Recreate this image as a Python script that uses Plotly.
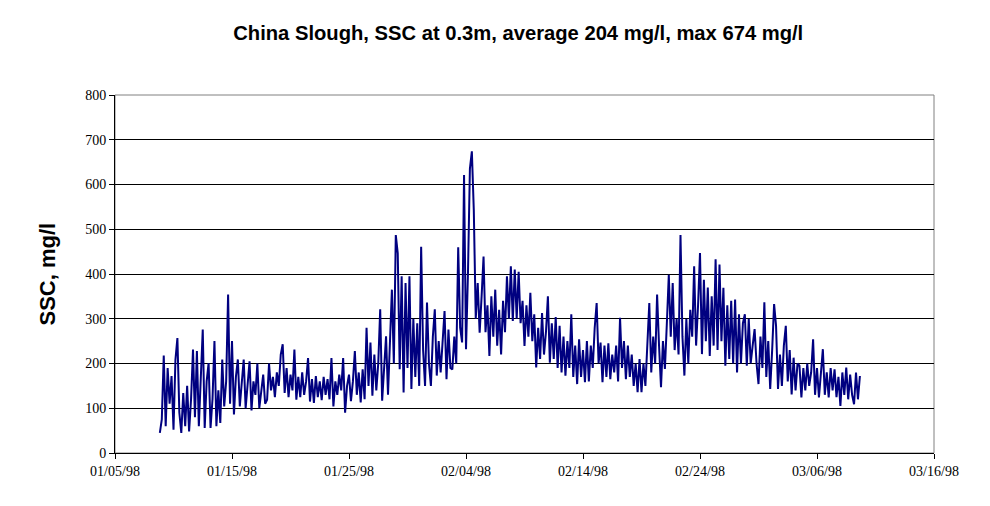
"""China Slough SSC time series, Excel-style line chart."""

import pandas as pd
import plotly.graph_objects as go

# readings every 4 hours, starting 1998-01-08 20:00 (one row per day)
start_time = "1998-01-08 20:00"
step = "4h"
ssc = [
    45, 75, 218, 60, 190, 110,
    172, 52, 209, 257, 90, 45,
    134, 60, 150, 48, 120, 231,
    80, 228, 60, 180, 276, 56,
    160, 201, 56, 120, 250, 60,
    140, 67, 209, 104, 160, 354,
    110, 250, 86, 170, 209, 104,
    150, 209, 100, 150, 205, 95,
    160, 130, 200, 100, 140, 175,
    110, 119, 200, 140, 170, 125,
    180, 150, 220, 243, 134, 190,
    125, 175, 140, 231, 119, 170,
    125, 180, 130, 160, 212, 115,
    165, 112, 172, 125, 160, 118,
    170, 130, 165, 120, 212, 104,
    160, 130, 175, 140, 212, 90,
    150, 175, 116, 160, 228, 130,
    180, 113, 187, 120, 280, 150,
    247, 128, 220, 140, 200, 321,
    117, 200, 261, 130, 240, 365,
    200, 487, 446, 187, 395, 135,
    380, 190, 395, 143, 300, 170,
    290, 150, 461, 230, 150, 336,
    200, 150, 260, 321, 173, 250,
    180, 240, 317, 165, 276, 190,
    187, 260, 200, 460, 280, 247,
    621, 232, 400, 635, 674, 543,
    300, 380, 269, 350, 439, 270,
    330, 217, 350, 260, 365, 240,
    320, 220, 340, 270, 395, 300,
    417, 295, 410, 300, 405, 290,
    340, 239, 330, 260, 358, 250,
    310, 191, 280, 210, 313, 220,
    270, 350, 202, 290, 210, 304,
    190, 284, 180, 260, 173, 250,
    190, 310, 170, 240, 154, 254,
    170, 230, 158, 250, 160, 240,
    190, 280, 335, 200, 247, 158,
    240, 170, 245, 165, 220, 180,
    240, 160, 302, 190, 250, 165,
    240, 170, 220, 150, 200, 136,
    210, 136, 200, 150, 230, 335,
    180, 260, 200, 354, 240, 147,
    250, 188, 290, 398, 260, 380,
    230, 300, 220, 487, 260, 173,
    300, 200, 320, 260, 417, 240,
    330, 447, 221, 387, 250, 370,
    217, 350, 240, 433, 230, 421,
    250, 369, 195, 330, 210, 340,
    200, 343, 180, 310, 200, 290,
    310, 195, 300, 200, 240, 277,
    200, 154, 260, 190, 337, 170,
    250, 143, 230, 333, 284, 143,
    220, 150, 240, 284, 160, 230,
    131, 213, 140, 200, 195, 124,
    190, 140, 200, 150, 180, 254,
    130, 190, 124, 180, 232, 130,
    180, 124, 190, 140, 187, 125,
    170, 105, 180, 130, 191, 120,
    175, 130, 109, 180, 120, 172,
]
times = pd.date_range(start_time, periods=len(ssc), freq=step)

title = "China Slough, SSC at 0.3m, average 204 mg/l, max 674 mg/l"
y_title = "SSC, mg/l"
x_start, x_end = "1998-01-05", "1998-03-16"

# the page puts the figure 8px in from the top-left corner
OFF = 8
W, H = 990 - OFF, 506 - OFF
L, T = 114.5 - OFF, 95 - OFF
R, B = W - (934 - OFF), H - (453 - OFF)
pw, ph = W - L - R, H - T - B


def px(x):
    return (x - OFF - L) / pw


def py(y):
    return (H - B - (y - OFF)) / ph


serif = "Times New Roman, serif"
sans = "Arial, sans-serif"

fig = go.Figure()
fig.add_scatter(x=times, y=ssc, mode="lines", line=dict(color="#000080", width=2),
                showlegend=False, hoverinfo="skip")

fig.update_layout(
    width=W, height=H,
    margin=dict(l=L, r=R, t=T, b=B),
    paper_bgcolor="white", plot_bgcolor="white",
    title=dict(text="<b>" + title + "</b>", x=px(518), xref="paper", xanchor="center",
               y=1 - (33 - OFF) / H, yanchor="middle",
               font=dict(family=sans, size=20.2, color="black")),
    shapes=[
        dict(type="rect", xref="paper", yref="paper", x0=0, x1=1, y0=0, y1=1,
             line=dict(color="#808080", width=1), layer="below"),
    ],
    annotations=[
        dict(text="<b>" + y_title + "</b>", xref="paper", yref="paper",
             x=px(46), y=py(274), textangle=-90, showarrow=False,
             xanchor="center", yanchor="middle",
             font=dict(family=sans, size=22, color="black")),
    ],
)
fig.update_xaxes(
    type="date", range=[x_start, x_end], tick0=x_start, dtick=10 * 86400000,
    tickformat="%m/%d/%y", showgrid=False, zeroline=False,
    showline=True, linecolor="black", linewidth=1,
    ticks="outside", ticklen=5, tickcolor="black",
    tickfont=dict(family=serif, size=14, color="black"),
)
fig.update_yaxes(
    range=[0, 800], dtick=100, showgrid=True, gridcolor="black", gridwidth=1,
    zeroline=False, showline=True, linecolor="black", linewidth=1,
    ticks="outside", ticklen=5, tickcolor="black",
    tickfont=dict(family=serif, size=14, color="black"),
)

fig.write_html("out.html")
